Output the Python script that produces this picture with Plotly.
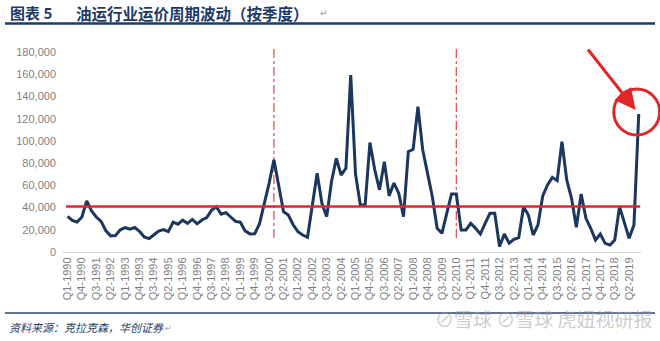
import plotly.graph_objects as go

# Quarterly tanker freight index, Q1-1990 .. Q4-2019
quarters = [f"Q{q}-{y}" for y in range(1990, 2020) for q in range(1, 5)]
rates = [
    32000, 28500, 27000, 31500, 46000, 37000, 31500, 27500, 19000, 14500,
    14800, 20000, 22000, 20500, 22000, 18500, 13500, 12000, 15500, 18800,
    20200, 18300, 26800, 25000, 28600, 25800, 29300, 25300, 28800, 31000,
    37500, 40800, 34000, 35400, 31500, 27500, 26800, 19000, 16300, 16500,
    25500, 42500, 62000, 83000, 60000, 36300, 33300, 24500, 18300, 15300,
    13200, 43800, 70800, 43800, 31800, 63500, 84300, 69300, 75300, 159300,
    70000, 42300, 42300, 98500, 74000, 56000, 81300, 50500, 62000, 53000,
    31800, 90300, 92400, 130800, 91800, 70800, 49800, 21300, 16800, 34800,
    52200, 52200, 19800, 19800, 25800, 21300, 16200, 25800, 34800, 34800,
    5000, 16200, 8000, 11400, 12900, 40800, 33300, 15300, 24300, 50400,
    60300, 67200, 64200, 99300, 64800, 48300, 22200, 52200, 30300, 21300,
    10800, 16200, 7800, 6300, 10800, 40800, 26400, 12300, 24300, 124200,
]
tick_labels = quarters[::3]
y_ticks = list(range(0, 180001, 20000))
cycle_peaks = ["Q4-2000", "Q2-2010"]   # dashed cycle markers
average_rate = 41000                   # long-run level

W, H = 660, 341
L, R, T, B = 62, 19, 52, 89
XR = [-1.15, 119.47]
YR = [0, 180000]
pw, ph = W - L - R, H - T - B


def px(x):  # page pixel -> paper x
    return (x - L) / pw


def py(y):  # page pixel -> paper y
    return (H - B - y) / ph


def xi(idx):  # category index -> paper x
    return (idx - XR[0]) / (XR[1] - XR[0])


def yv(v):  # value -> paper y
    return (v - YR[0]) / (YR[1] - YR[0])


navy = "#1B365F"
red = "#E0262B"
grey = "#7F7F7F"
cjk = "Noto Sans CJK SC"

fig = go.Figure()
fig.add_trace(go.Scatter(
    x=quarters, y=rates, mode="lines",
    line=dict(color=navy, width=3), hoverinfo="x+y", showlegend=False,
))

shapes = []
# long-run average line
shapes.append(dict(type="line", xref="paper", yref="paper",
                   x0=xi(-0.3), x1=xi(119.3), y0=yv(average_rate), y1=yv(average_rate),
                   line=dict(color=red, width=2.5), layer="above"))
# cycle peak markers
for q in cycle_peaks:
    k = quarters.index(q)
    shapes.append(dict(type="line", xref="paper", yref="paper",
                       x0=xi(k), x1=xi(k), y0=py(238), y1=py(47),
                       line=dict(color="#E05A5A", width=1.3, dash="dashdot"), layer="below"))
# highlight ring around the latest quarter
last = len(rates) - 1
shapes.append(dict(type="circle", xref="paper", yref="paper",
                   xsizemode="pixel", ysizemode="pixel",
                   xanchor=xi(last), yanchor=yv(rates[last]),
                   x0=-25, x1=21, y0=-21, y1=25,
                   line=dict(color=red, width=3)))
# title rule and source rule
shapes.append(dict(type="line", xref="paper", yref="paper",
                   x0=px(5), x1=px(655), y0=py(23.5), y1=py(23.5),
                   line=dict(color="#1F3A66", width=2.5)))
shapes.append(dict(type="line", xref="paper", yref="paper",
                   x0=px(5), x1=px(655), y0=py(313), y1=py(313),
                   line=dict(color="#2A4670", width=1.5)))

annotations = [
    dict(xref="paper", yref="paper", x=xi(last), y=yv(rates[last]),
         ax=-52, ay=-66, text="", showarrow=True, arrowhead=2, arrowsize=1.4,
         arrowwidth=3, arrowcolor=red, standoff=5),
    dict(xref="paper", yref="paper", x=px(8), y=py(12.5), xanchor="left", yanchor="middle",
         text="<b>图表 5</b>", showarrow=False,
         font=dict(family=cjk, size=15, color="#1F3A66")),
    dict(xref="paper", yref="paper", x=px(74), y=py(12.5), xanchor="left", yanchor="middle",
         text="<b>油运行业运价周期波动（按季度）</b>", showarrow=False,
         font=dict(family=cjk, size=15.5, color="#1F3A66")),
    dict(xref="paper", yref="paper", x=px(318), y=py(13), xanchor="left", yanchor="middle",
         text="↵", showarrow=False, font=dict(family="DejaVu Sans", size=9, color="#9A9A9A")),
    dict(xref="paper", yref="paper", x=px(7), y=py(327), xanchor="left", yanchor="middle",
         text="<i>资料来源：克拉克森，华创证券</i>", showarrow=False,
         font=dict(family=cjk, size=11, color="#1F3A66")),
    dict(xref="paper", yref="paper", x=px(163), y=py(328), xanchor="left", yanchor="middle",
         text="↵", showarrow=False, font=dict(family="DejaVu Sans", size=8, color="#9A9A9A")),
    dict(xref="paper", yref="paper", x=px(655), y=py(318), xanchor="right", yanchor="middle",
         text="⊘雪球 ⊘雪球 虎妞视研报", showarrow=False,
         font=dict(family=cjk, size=19, color="rgba(160,160,160,0.55)")),
]

fig.update_layout(
    width=W, height=H,
    margin=dict(l=L, r=R, t=T, b=B, pad=0),
    paper_bgcolor="white", plot_bgcolor="white",
    shapes=shapes, annotations=annotations,
    font=dict(family="Liberation Sans, Arial, sans-serif", color=grey),
    xaxis=dict(
        type="category", range=XR, tickmode="array",
        tickvals=tick_labels, ticktext=tick_labels, tickangle=-90,
        tickfont=dict(size=11, color=grey),
        showgrid=False, zeroline=False, showline=True,
        linecolor="#D9D9D9", linewidth=1, ticks="",
    ),
    yaxis=dict(
        range=YR, tickmode="array", tickvals=y_ticks, tickformat=",",
        tickfont=dict(size=11, color=grey),
        showgrid=False, zeroline=False, showline=False, ticks="",
        ticklabelstandoff=5,
    ),
)

fig.write_html("out.html")
